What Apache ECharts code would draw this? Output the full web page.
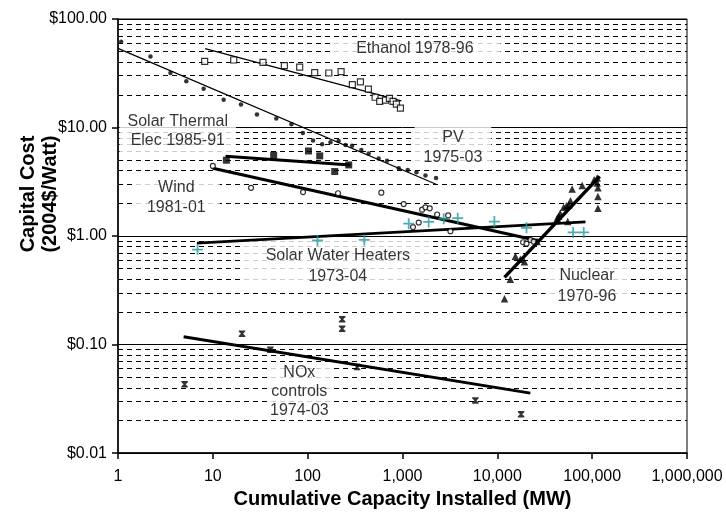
<!DOCTYPE html>
<html><head><meta charset="utf-8">
<script src="https://cdn.jsdelivr.net/npm/echarts@6/dist/echarts.min.js"></script>
<style>html,body{margin:0;padding:0;background:#fff}#c{width:726px;height:514px}</style>
</head><body><div id="c"></div>
<script>
// ---- tick labels ----
const xTicks = [1, 10, 100, 1000, 10000, 100000, 1000000];
const xTickLabels = ['1', '10', '100', '1,000', '10,000', '100,000', '1,000,000'];
const yTicks = [0.01, 0.1, 1, 10, 100];
const yTickLabels = ['$0.01', '$0.10', '$1.00', '$10.00', '$100.00'];

// ---- annotation texts ----
const annotationTexts = ['Ethanol 1978-96', 'Solar Thermal\nElec 1985-91', 'PV\n1975-03', 'Wind\n1981-01',
  'Solar Water Heaters\n1973-04', 'Nuclear\n1970-96', 'NOx\ncontrols\n1974-03'];

// ---- data: [cumulative MW, 2004$/W] ----
const pvPoints = [[1.08,61.7],[2.2,45.2],[3.57,31.8],[5.25,26.7],[8.0,22.8],[13.0,18.0],[19.8,16.3],[29.2,13.2],
  [46.7,12.1],[67.3,10.7],[89,8.9],[114,7.6],[142,7.0],[174,7.3],[212,7.5],[251,6.9],[294,6.8],[368,6.2],
  [440,5.75],[561,5.18],[687,4.94],[913,4.21],[1135,4.07],[1403,3.87],[1746,3.62],[2260,3.42]];
const pvTrend = [[1,53.7],[2260,3.0]];

const ethanolPoints = [[8.2,40.7],[16.6,41.9],[33.8,39.9],[56.8,37.2],[82.4,36.0],[118.6,32],[167,31.8],[225,32.8],
  [296,24.9],[360,26.3],[437,22.6],[514,19.0],[575,17.4],[661,17.9],[728,18.6],[795,17.4],[862,16.4],[951,15.1]];
const ethanolTrend = [[8.3,53.3],[973,17.6]];

const solarThermalPoints = [[13.9,5.0],[43.8,5.56],[102,6.08],[134,5.48],[271,4.52],[193,3.93]];
const solarThermalTrend = [[13.6,5.45],[282,4.52]];

const windPoints = [[10.0,4.43],[25.3,2.78],[89.4,2.54],[209,2.48],[598,2.51],[1030,1.97],[1290,1.21],[1483,1.33],
  [1610,1.75],[1745,1.84],[1937,1.80],[2317,1.58],[3030,1.55],[3200,1.11],[18700,0.877],[20300,0.85],[22400,0.92],[24200,0.89]];
const windTrend = [[10,4.21],[26300,0.91]];

const swhPoints = [[6.9,0.75],[127,0.91],[396,0.92],[1162,1.30],[1889,1.35],[2720,1.44],[3820,1.46],
  [9310,1.36],[20300,1.19],[63000,1.08],[81500,1.08]];
const swhTrend = [[6.8,0.86],[85000,1.35]];

const nuclearPoints = [[11900,0.265],[13700,0.40],[15500,0.65],[17500,0.61],[19300,0.58],[26300,0.89],
  [42800,1.46],[44400,1.52],[46000,1.62],[50100,1.84],[53600,1.90],[56700,1.93],[55300,1.36],[59000,2.11],
  [61500,2.72],[78500,2.92],[105000,3.30],[113000,3.42],[113000,3.08],[115000,2.78],[115000,2.31],[115000,1.80]];
const nuclearTrend = [[11900,0.416],[120000,3.55]];

const noxPoints = [[5.04,0.043],[20.3,0.126],[40.4,0.0896],[231,0.171],[231,0.140],[332,0.062],[5870,0.0305],[17800,0.0228]];
const noxTrend = [[4.92,0.118],[22300,0.0357]];

// ---- minor gridline values (2..9 in each decade) ----
const minorGrid = [];
[0.01, 0.1, 1, 10].forEach(d => { for (let k = 2; k <= 9; k++) minorGrid.push(+(d * k).toPrecision(3)); });

const FONT = "'Liberation Sans', Arial, Helvetica, sans-serif";
const TEAL = '#1f9aa0';

function tickLabel(ticks, labels) {
  return v => { const i = ticks.findIndex(t => Math.abs(Math.log10(t) - Math.log10(v)) < 1e-6); return i >= 0 ? labels[i] : ''; };
}
function trend(data, w) {
  return { type: 'line', data, showSymbol: false, symbol: 'none', z: 4, silent: true,
    lineStyle: { color: '#000', width: w }, animation: false };
}
function pts(data, symbol, size, style, z) {
  return { type: 'scatter', data, symbol, symbolSize: size, z: z || 5, itemStyle: style, silent: true, animation: false };
}
function ann(text, pos, lh, pad) {
  return { value: pos, label: { formatter: text, lineHeight: lh, padding: pad } };
}

const chart = echarts.init(document.getElementById('c'), null, { renderer: 'canvas' });
chart.setOption({
  animation: false,
  backgroundColor: '#fff',
  grid: { left: 118, right: 39, top: 19, bottom: 52, show: true, borderColor: '#000', borderWidth: 1, backgroundColor: 'transparent' },
  xAxis: {
    type: 'log', logBase: 10, min: 1, max: 1000000, splitNumber: 6,
    name: 'Cumulative Capacity Installed (MW)', nameLocation: 'middle', nameGap: 31,
    nameTextStyle: { fontFamily: FONT, fontWeight: 'bold', fontSize: 20, color: '#000' },
    axisLine: { lineStyle: { color: '#000', width: 1.5 } },
    axisTick: { show: true, length: 6, lineStyle: { color: '#000', width: 1.5 } },
    axisLabel: { formatter: tickLabel(xTicks, xTickLabels), fontFamily: FONT, fontSize: 16, color: '#000', margin: 15 },
    splitLine: { show: false }, minorTick: { show: false }
  },
  yAxis: {
    type: 'log', logBase: 10, min: 0.01, max: 100, splitNumber: 4,
    axisLine: { lineStyle: { color: '#000', width: 1.5 } },
    axisTick: { show: true, length: 6, lineStyle: { color: '#000', width: 1.5 } },
    axisLabel: { formatter: tickLabel(yTicks, yTickLabels), fontFamily: FONT, fontSize: 16, color: '#000', margin: 11 },
    splitLine: { show: true, lineStyle: { color: '#000', width: 1, type: 'solid' } }
  },
  graphic: [{
    type: 'text', x: 39, y: 194, rotation: Math.PI / 2,
    style: { text: 'Capital Cost\n(2004$/Watt)', font: "bold 20px 'Liberation Sans', Arial, sans-serif",
      fill: '#000', align: 'center', verticalAlign: 'middle', lineHeight: 22 }
  }],
  series: [
    { type: 'line', data: [], z: 1, silent: true,
      markLine: { z: 1, silent: true, symbol: 'none', animation: false, label: { show: false },
        lineStyle: { color: '#000', width: 1, type: [5, 4] },
        data: minorGrid.map(v => ({ yAxis: v })) } },
    { type: 'scatter', z: 2, silent: true, symbolSize: 1, itemStyle: { color: 'rgba(0,0,0,0)' },
      label: { show: true, position: 'inside', color: '#000', fontFamily: FONT, fontSize: 16, backgroundColor: '#fff' },
      data: [
        ann(annotationTexts[0], [1368, 53.5], 18, [1, 27, 1, 26]),
        ann(annotationTexts[1], [4.27, 9.24], 19, [2, 8, 2, 8]),
        ann(annotationTexts[2], [3403, 6.6], 20, [2, 9, 2, 9]),
        ann(annotationTexts[3], [4.12, 2.25], 20, [0, 14, 0, 14]),
        ann(annotationTexts[4], [208, 0.531], 21, [5, 22, 5, 22]),
        ann(annotationTexts[5], [88100, 0.344], 21, [2, 12, 2, 12]),
        ann(annotationTexts[6], [81.7, 0.037], 19, [0, 2, 0, 2])
      ] },
    trend(pvTrend, 1.3), trend(ethanolTrend, 1.3), trend(solarThermalTrend, 3), trend(windTrend, 3.2),
    trend(swhTrend, 2.6), trend(nuclearTrend, 3.5), trend(noxTrend, 3),
    pts(pvPoints, 'circle', 4.5, { color: '#000' }),
    pts(ethanolPoints, 'rect', 6, { color: '#fff', borderColor: '#000', borderWidth: 1.2 }),
    pts(solarThermalPoints, 'rect', 7, { color: '#000' }),
    pts(windPoints, 'circle', 5, { color: '#fff', borderColor: '#000', borderWidth: 1.2 }),
    pts(swhPoints, 'path://M4.2,0H5.8V4.2H10V5.8H5.8V10H4.2V5.8H0V4.2H4.2Z', 11, { color: TEAL }, 6),
    pts(nuclearPoints, 'triangle', 7.5, { color: '#000' }),
    pts(noxPoints, 'path://M0,0H10V1.8L6.6,5L10,8.2V10H0V8.2L3.4,5L0,1.8Z', 6.5, { color: '#000' })
  ]
});
</script></body></html>
